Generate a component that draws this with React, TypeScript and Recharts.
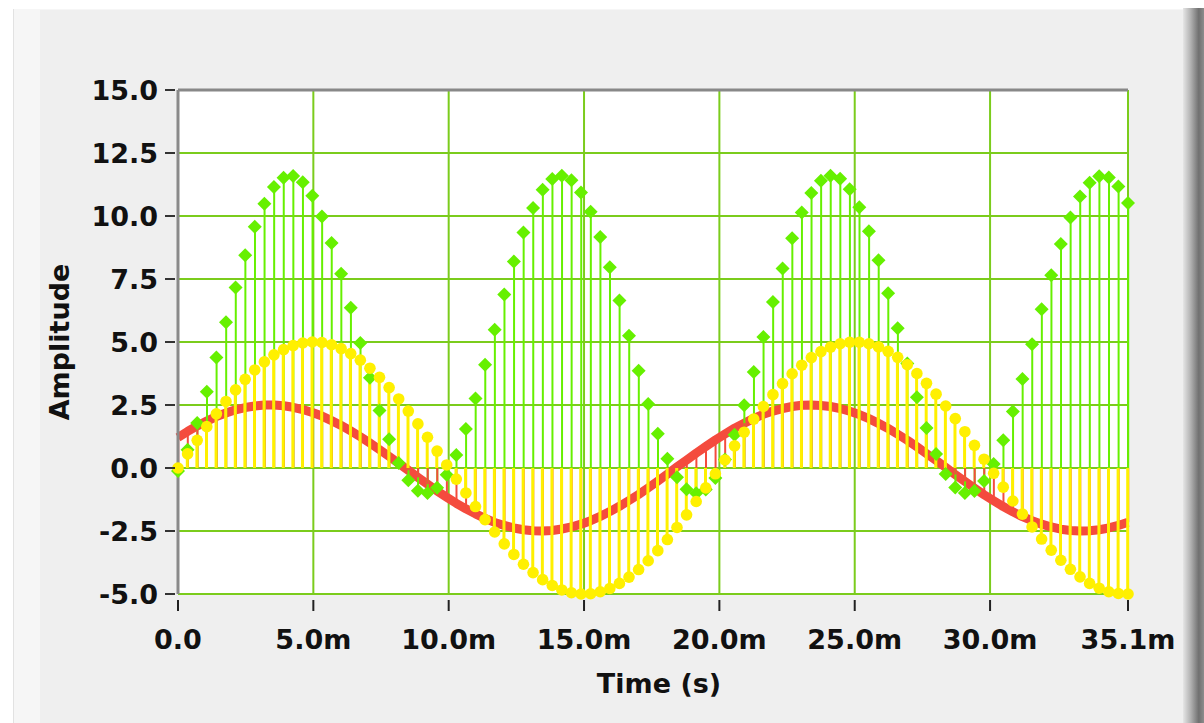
import React from 'react';
import { ComposedChart, Line, Bar, Area, XAxis, YAxis, CartesianGrid, ReferenceLine } from 'recharts';

const TIME_MS = [0,0.3545,0.709,1.0635,1.418,1.7725,2.127,2.4815,2.836,3.1905,3.545,3.8995,4.254,4.6085,4.963,5.3175,5.672,6.0265,6.381,6.7355,7.09,7.4445,7.799,8.1535,8.508,8.8625,9.217,9.5715,9.926,10.2805,10.635,10.9895,11.344,11.6985,12.053,12.4075,12.762,13.1165,13.471,13.8255,14.18,14.5345,14.889,15.2435,15.598,15.9525,16.307,16.6615,17.016,17.3705,17.725,18.0795,18.434,18.7885,19.143,19.4975,19.852,20.2065,20.561,20.9155,21.27,21.6245,21.979,22.3335,22.688,23.0425,23.397,23.7515,24.106,24.4605,24.815,25.1695,25.524,25.8785,26.233,26.5875,26.942,27.2965,27.651,28.0055,28.36,28.7145,29.069,29.4235,29.778,30.1325,30.487,30.8415,31.196,31.5505,31.905,32.2595,32.614,32.9685,33.323,33.6775,34.032,34.3865,34.741,35.0955];

const GREEN = [-0.12,0.72,1.79,3.03,4.38,5.78,7.16,8.44,9.57,10.49,11.15,11.52,11.59,11.34,10.8,9.98,8.93,7.71,6.36,4.96,3.58,2.28,1.14,0.2,-0.49,-0.9,-0.99,-0.78,-0.27,0.52,1.55,2.76,4.1,5.49,6.88,8.19,9.35,10.32,11.04,11.47,11.6,11.42,10.93,10.17,9.17,7.97,6.65,5.25,3.86,2.54,1.36,0.37,-0.37,-0.84,-1.0,-0.85,-0.4,0.34,1.32,2.49,3.81,5.2,6.59,7.92,9.12,10.14,10.91,11.4,11.6,11.48,11.06,10.35,9.39,8.24,6.93,5.55,4.15,2.81,1.59,0.56,-0.24,-0.77,-0.99,-0.91,-0.52,0.16,1.1,2.24,3.53,4.91,6.3,7.65,8.89,9.94,10.77,11.32,11.58,11.53,11.17,10.52];

const YELLOW = [0,0.56,1.1,1.64,2.15,2.64,3.1,3.52,3.89,4.21,4.49,4.7,4.86,4.96,5.0,4.98,4.89,4.74,4.54,4.28,3.96,3.6,3.19,2.74,2.26,1.75,1.22,0.67,0.12,-0.44,-0.99,-1.53,-2.05,-2.54,-3.01,-3.43,-3.82,-4.15,-4.43,-4.66,-4.84,-4.95,-5.0,-4.99,-4.91,-4.78,-4.58,-4.33,-4.03,-3.68,-3.28,-2.84,-2.36,-1.86,-1.33,-0.79,-0.23,0.32,0.88,1.42,1.94,2.44,2.91,3.35,3.74,4.08,4.38,4.62,4.8,4.93,4.99,4.99,4.93,4.81,4.63,4.39,4.1,3.75,3.36,2.93,2.46,1.96,1.44,0.9,0.35,-0.21,-0.76,-1.31,-1.83,-2.34,-2.82,-3.26,-3.66,-4.02,-4.32,-4.58,-4.77,-4.91,-4.98,-5.0];

const RED = [1.21,1.45,1.67,1.86,2.04,2.18,2.31,2.4,2.46,2.5,2.5,2.47,2.41,2.32,2.2,2.06,1.88,1.69,1.47,1.24,0.99,0.73,0.46,0.18,-0.09,-0.37,-0.64,-0.91,-1.16,-1.4,-1.62,-1.82,-2.0,-2.16,-2.28,-2.38,-2.45,-2.49,-2.5,-2.48,-2.42,-2.34,-2.23,-2.09,-1.92,-1.73,-1.52,-1.29,-1.05,-0.79,-0.52,-0.24,0.04,0.31,0.59,0.85,1.11,1.35,1.58,1.78,1.97,2.13,2.26,2.36,2.44,2.49,2.5,2.48,2.44,2.36,2.25,2.12,1.96,1.77,1.57,1.34,1.1,0.84,0.57,0.3,0.02,-0.26,-0.53,-0.8,-1.06,-1.3,-1.53,-1.74,-1.93,-2.09,-2.23,-2.34,-2.43,-2.48,-2.5,-2.49,-2.45,-2.38,-2.28,-2.15];

const X_TICKS = [0, 5, 10, 15, 20, 25, 30, 35.0955];
const Y_TICKS = [-5, -2.5, 0, 2.5, 5, 7.5, 10, 12.5, 15];
const X_MAX = 35.0955;

const data = TIME_MS.map((t, i) => ({ t, g: GREEN[i], y: YELLOW[i], r: RED[i] }));

const FONT = '"DejaVu Sans", Verdana, sans-serif';
const GRID = '#7bcc1c';
const C_GREEN = '#66f000';
const C_YELLOW = '#fff000';
const C_RED = '#f44b3e';

const fmtX = (v: number) => (v === 0 ? '0.0' : `${v.toFixed(1)}m`);

const XTick = (props: any) => {
  const { x, y, payload } = props;
  return (
    <g>
      <line x1={x} x2={x} y1={y + 6} y2={y + 17} stroke="#222" strokeWidth={2} />
      <text x={x} y={y + 55} textAnchor="middle" fontFamily={FONT} fontWeight="bold" fontSize={27} fill="#111">
        {fmtX(payload.value)}
      </text>
    </g>
  );
};

const YTick = (props: any) => {
  const { x, y, payload } = props;
  return (
    <g>
      <line x1={x - 13} x2={x - 3} y1={y} y2={y} stroke="#333" strokeWidth={2} />
      <text x={x - 20} y={y} dy="0.36em" textAnchor="end" fontFamily={FONT} fontWeight="bold" fontSize={27} fill="#111">
        {payload.value.toFixed(1)}
      </text>
    </g>
  );
};

const GreenDiamond = (props: any) => {
  const { cx, cy, index } = props;
  if (cx == null || cy == null) return <g key={`gd${index}`} />;
  const h = 7;
  return (
    <polygon key={`gd${index}`} points={`${cx},${cy - h} ${cx + h},${cy} ${cx},${cy + h} ${cx - h},${cy}`} fill={C_GREEN} />
  );
};

export default function App() {
  return (
    <div style={{ position: 'absolute', left: 0, top: 0, width: 1204, height: 723, background: '#ffffff', overflow: 'hidden' }}>
      <div style={{ position: 'absolute', left: 13, top: 9, width: 1172, height: 714, background: '#f6f6f6', borderLeft: '1px solid #e2e2e2' }} />
      <div style={{ position: 'absolute', left: 40, top: 10, width: 1145, height: 713, background: '#efefef' }} />
      <div style={{ position: 'absolute', left: 1183, top: 8, width: 21, height: 715, background: 'linear-gradient(to right, #e6e6e6 0%, #b4b4b4 35%, #707070 75%, #8c8c8c 100%)' }} />
      <div style={{ position: 'absolute', left: 0, top: 0 }}>
        <ComposedChart width={1204} height={723} data={data} margin={{ top: 90, right: 76, bottom: 14, left: 0 }}>
          <CartesianGrid xAxisId="main" stroke={GRID} strokeWidth={2} fill="#ffffff" fillOpacity={1} />
          <XAxis
            xAxisId="main"
            type="number"
            dataKey="t"
            domain={[0, X_MAX]}
            ticks={X_TICKS}
            interval={0}
            height={115}
            axisLine={false}
            tickLine={false}
            tickSize={0}
            tickMargin={0}
            tick={<XTick />}
            label={{ value: 'Time (s)', position: 'insideBottom', offset: 16, dx: 6, fontFamily: FONT, fontWeight: 'bold', fontSize: 27, fill: '#111' }}
          />
          <XAxis xAxisId="sg" type="number" dataKey="t" domain={[0, X_MAX]} hide />
          <XAxis xAxisId="sr" type="number" dataKey="t" domain={[0, X_MAX]} hide />
          <XAxis xAxisId="sy" type="number" dataKey="t" domain={[0, X_MAX]} hide />
          <YAxis
            type="number"
            domain={[-5, 15]}
            ticks={Y_TICKS}
            interval={0}
            width={178}
            axisLine={{ stroke: '#8a8a8a', strokeWidth: 3 }}
            tickLine={false}
            tickSize={0}
            tickMargin={0}
            tick={<YTick />}
            label={{
              content: (p: any) => {
                const vb = p.viewBox || { x: 0, y: 90, height: 504 };
                const lx = vb.x + 69;
                const ly = vb.y + vb.height / 2;
                return (
                  <text x={lx} y={ly} transform={`rotate(-90 ${lx} ${ly})`} textAnchor="middle" fontFamily={FONT} fontWeight="bold" fontSize={27} fill="#111">
                    Amplitude
                  </text>
                );
              },
            }}
          />
          <ReferenceLine xAxisId="main" y={15} stroke="#888888" strokeWidth={3} />
          <Area xAxisId="main" dataKey="g" type="linear" stroke="none" fill="none" fillOpacity={0} dot={GreenDiamond} activeDot={false} isAnimationActive={false} />
          <Area xAxisId="main" dataKey="r" type="linear" stroke={C_RED} strokeWidth={9} strokeLinejoin="round" fill="none" fillOpacity={0} dot={false} activeDot={false} isAnimationActive={false} />
          <Bar xAxisId="sg" dataKey="g" barSize={2} fill={C_GREEN} isAnimationActive={false} />
          <Bar xAxisId="sr" dataKey="r" barSize={2} fill={C_RED} isAnimationActive={false} />
          <Bar xAxisId="sy" dataKey="y" barSize={3} fill={C_YELLOW} isAnimationActive={false} />
          <Line xAxisId="main" dataKey="y" stroke="none" dot={{ r: 5.8, fill: C_YELLOW, stroke: 'none' }} activeDot={false} isAnimationActive={false} />
        </ComposedChart>
      </div>
    </div>
  );
}
